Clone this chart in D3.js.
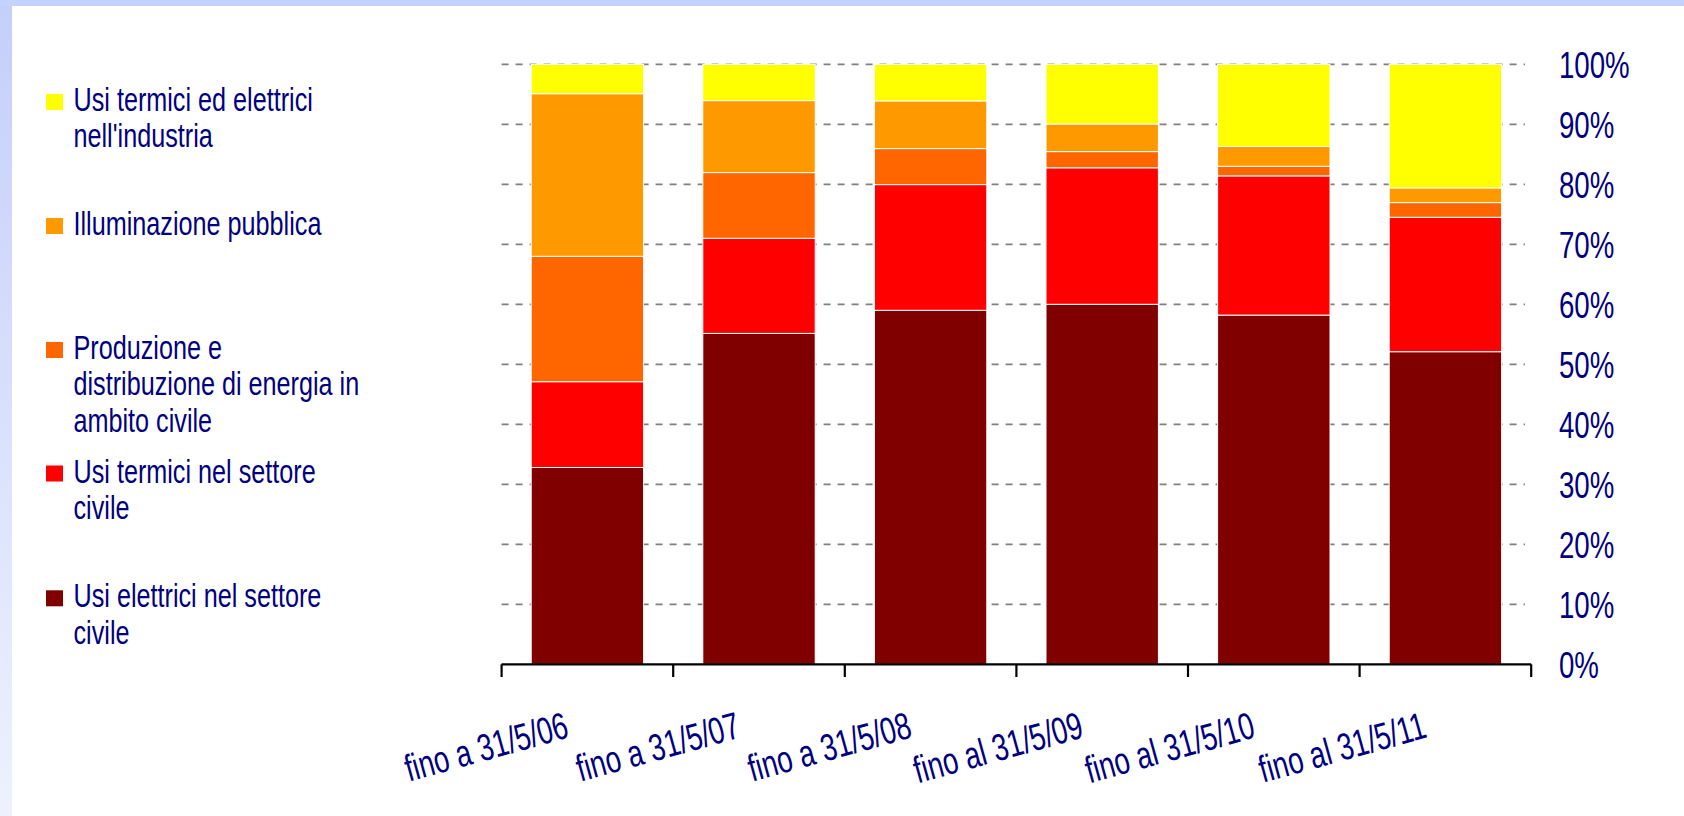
<!DOCTYPE html>
<html>
<head>
<meta charset="utf-8">
<script src="https://cdn.jsdelivr.net/npm/d3@7"></script>
<style>
  html, body { margin: 0; padding: 0; background: #ffffff; }
  svg { display: block; }
  text { font-family: "Liberation Sans", Arial, sans-serif; fill: #000080; }
</style>
</head>
<body>
<svg id="chart" width="1684" height="816"></svg>
<script>
// ---- data ----
const categories = ["fino a 31/5/06", "fino a 31/5/07", "fino a 31/5/08", "fino al 31/5/09", "fino al 31/5/10", "fino al 31/5/11"];
const seriesNames = [
  "Usi elettrici nel settore civile",
  "Usi termici nel settore civile",
  "Produzione e distribuzione di energia in ambito civile",
  "Illuminazione pubblica",
  "Usi termici ed elettrici nell'industria"
];
const usiElettriciCivile = [32.8, 55.15, 59.0, 60.0, 58.2, 52.1];
const usiTermiciCivile   = [14.3, 15.85, 20.95, 22.75, 23.2, 22.4];
const produzioneEnergia  = [20.9, 10.95, 6.0, 2.7, 1.6, 2.45];
const illuminazione      = [27.1, 12.0, 7.95, 4.6, 3.3, 2.45];
const usiIndustria       = [4.9, 6.05, 6.1, 9.95, 13.7, 20.6];
const seriesColors = ["#800000", "#ff0000", "#ff6600", "#ff9900", "#ffff00"];
const yTicks = [0, 10, 20, 30, 40, 50, 60, 70, 80, 90, 100];
const yTickLabels = ["0%", "10%", "20%", "30%", "40%", "50%", "60%", "70%", "80%", "90%", "100%"];
// legend entries, top to bottom, with their wrapped lines
const legendLines = [
  ["Usi termici ed elettrici", "nell'industria"],
  ["Illuminazione pubblica"],
  ["Produzione e", "distribuzione di energia in", "ambito civile"],
  ["Usi termici nel settore", "civile"],
  ["Usi elettrici nel settore", "civile"]
];
const legendColors = ["#ffff00", "#ff9900", "#ff6600", "#ff0000", "#800000"];

// ---- build table ----
const seriesValues = [usiElettriciCivile, usiTermiciCivile, produzioneEnergia, illuminazione, usiIndustria];
const table = categories.map((c, i) => {
  const row = { cat: c };
  seriesNames.forEach((s, j) => { row[s] = seriesValues[j][i]; });
  return row;
});
const stacked = d3.stack().keys(seriesNames)(table);

const svg = d3.select("#chart");

// ---- background frame ----
const defs = svg.append("defs");
const grad = defs.append("linearGradient").attr("id", "leftGrad")
  .attr("x1", 0).attr("y1", 0).attr("x2", 0).attr("y2", 1);
grad.append("stop").attr("offset", "0%").attr("stop-color", "#c4cffb");
grad.append("stop").attr("offset", "100%").attr("stop-color", "#eef1fd");
svg.append("rect").attr("x", 0).attr("y", 0).attr("width", 12).attr("height", 816).attr("fill", "url(#leftGrad)");
svg.append("rect").attr("x", 0).attr("y", 0).attr("width", 1684).attr("height", 6).attr("fill", "#c5d2fe");

// ---- scales ----
const x0 = 501.6, x1 = 1531.2;
const x = d3.scaleBand().domain(categories).range([x0, x1]).paddingInner(0.345).paddingOuter(0.1725);
const y = d3.scaleLinear().domain([0, 100]).range([664.3, 64.3]);

// ---- gridlines ----
svg.append("g").selectAll("line").data(yTicks.filter(t => t > 0)).join("line")
  .attr("x1", x0).attr("x2", 1525)
  .attr("y1", d => y(d)).attr("y2", d => y(d))
  .attr("stroke", "#808080").attr("stroke-width", 1.8)
  .attr("stroke-dasharray", "7,7");

// ---- bars ----
svg.append("g").selectAll("g").data(stacked).join("g")
  .attr("fill", (d, i) => seriesColors[i])
  .selectAll("rect").data(d => d).join("rect")
  .attr("x", d => x(d.data.cat))
  .attr("width", x.bandwidth())
  .attr("y", d => y(d[1]))
  .attr("height", d => y(d[0]) - y(d[1]))
  .attr("stroke", "#ffffff").attr("stroke-width", 1);

// ---- x axis ----
const axisG = svg.append("g");
axisG.append("line").attr("x1", x0).attr("x2", x1).attr("y1", 664.3).attr("y2", 664.3)
  .attr("stroke", "#000").attr("stroke-width", 2.2);
const boundaries = categories.map(c => x(c) - x.step() * x.paddingInner() / 2).concat([x1]);
axisG.selectAll("line.tick").data(boundaries).join("line").attr("class", "tick")
  .attr("x1", d => d).attr("x2", d => d).attr("y1", 664.3).attr("y2", 677)
  .attr("stroke", "#000").attr("stroke-width", 2.2);

// x labels (rotated)
svg.append("g").selectAll("text").data(categories).join("text")
  .attr("transform", d => `translate(${x(d) + x.bandwidth() / 2 - 17},737) rotate(-15.5) scale(0.79,1.08)`)
  .attr("text-anchor", "end")
  .style("font-size", "35px")
  .text(d => d);

// y labels (right side)
svg.append("g").selectAll("text").data(yTicks).join("text")
  .attr("transform", (d) => `translate(1559,${y(d) + 13.2}) scale(0.79,1.04)`)
  .style("font-size", "35px")
  .text((d, i) => yTickLabels[i]);

// ---- legend ----
const legendBaselines = [111, 235, 359, 482.5, 607.3];
const lineGap = 36.3;
const lg = svg.append("g");
legendLines.forEach((lines, i) => {
  const b = legendBaselines[i];
  lg.append("rect").attr("x", 46).attr("y", b - 17).attr("width", 17).attr("height", 16)
    .attr("fill", legendColors[i]);
  lines.forEach((t, k) => {
    lg.append("text")
      .attr("transform", `translate(73.5,${b + k * lineGap}) scale(0.8,1.04)`)
      .style("font-size", "31.5px")
      .text(t);
  });
});
</script>
</body>
</html>
